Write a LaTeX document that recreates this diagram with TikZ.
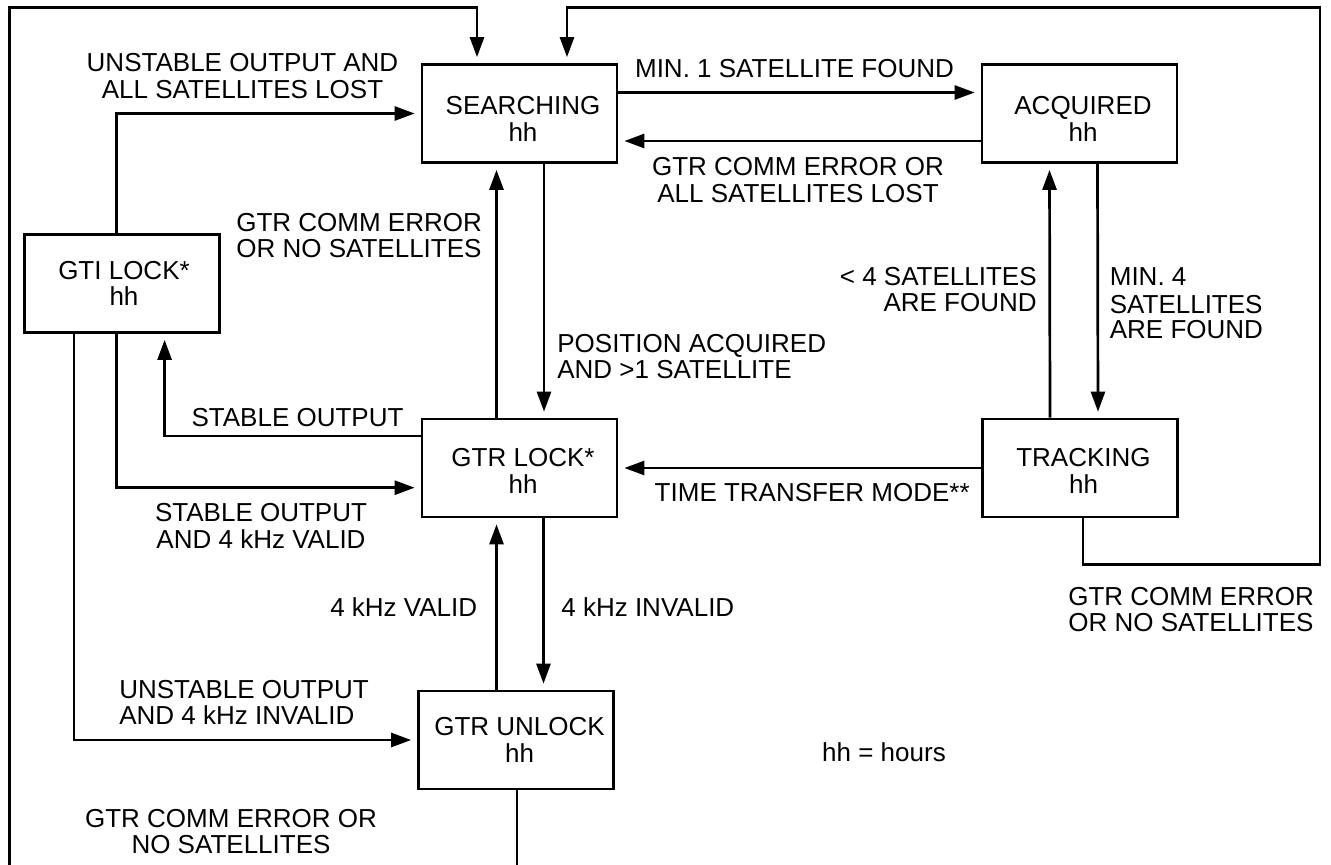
\documentclass[tikz,border=0pt]{standalone}
\usepackage{fontspec}
\setmainfont{Liberation Sans}
\usetikzlibrary{arrows.meta}
\begin{document}
\begin{tikzpicture}[x=1pt,y=-1pt,line width=2.7pt,
  font=\fontsize{26pt}{26.5pt}\selectfont,
  state/.style={draw,minimum width=195pt,minimum height=98pt,inner sep=0pt},
  txt/.style={align=center,inner sep=0pt,xshift=3.5pt},
  lbl/.style={inner sep=0pt},
  arr/.style={-{Triangle[length=20pt,width=14pt]},shorten >=6pt}]
\path[use as bounding box,clip] (0,0) rectangle (1331,865);
\node[state,label={[txt,yshift=-5.5pt]center:SEARCHING\\hh}] (search) at (519.5,113.5) {};
\node[state,label={[txt,yshift=-5.5pt]center:ACQUIRED\\hh}] (acq) at (1079.5,113.5) {};
\node[state,label={[txt,xshift=-1.5pt]center:GTI LOCK*\\hh}] (gti) at (122,283.5) {};
\node[state,label={[txt,yshift=-3pt]center:GTR LOCK*\\hh}] (lock) at (519.5,468) {};
\node[state,label={[txt,yshift=-3pt]center:TRACKING\\hh}] (track) at (1080,468) {};
\node[state,label={[txt]center:GTR UNLOCK\\hh}] (unlock) at (516,740) {};
\draw[arr] ([yshift=21pt]search.east) -- ([yshift=21pt]acq.west);
\draw[arr] ([yshift=-27.5pt]acq.west) -- ([yshift=-27.5pt]search.east);
\draw[arr] ([xshift=24.5pt]search.south) -- ([xshift=24.5pt]lock.north);
\draw[arr] ([xshift=-23pt]lock.north) -- ([xshift=-23pt]search.south);
\draw[arr] ([xshift=18pt]acq.south) -- ([xshift=18pt]track.north);
\draw[arr] ([xshift=-30pt]track.north) -- ([xshift=-30pt]acq.south);
\draw[arr] (track.west) -- (lock.east);
\draw[arr] ([yshift=32pt]lock.west) -| ([xshift=42.6pt]gti.south);
\draw[arr] ([xshift=-5.4pt]gti.north) |- (search.west);
\draw[arr] ([xshift=-5.4pt]gti.south) |- ([yshift=-19.7pt]lock.west);
\draw[arr] ([xshift=-48pt]gti.south) |- (unlock.west);
\draw[arr] ([xshift=24pt]lock.south) -- ([xshift=27.5pt]unlock.north);
\draw[arr] ([xshift=-19.5pt]unlock.north) -- ([xshift=-23pt]lock.south);
\draw[arr] ([xshift=1pt]unlock.south) -- ++(0,90) -| (9.3,7.3) -| ([xshift=-42.5pt]search.north);
\draw[arr] ([xshift=3pt]track.south) -- ++(0,46) -| (1320,7.3) -| ([xshift=47.5pt]search.north);
\node[lbl,align=center] (lostall) at (242.5,76) {UNSTABLE OUTPUT AND\\ALL SATELLITES LOST};
\node[lbl] (minone) at (794.5,69) {MIN. 1 SATELLITE FOUND};
\node[lbl,align=center] (commlost) at (798,180) {GTR COMM ERROR OR\\ALL SATELLITES LOST};
\node[lbl,align=left,anchor=west] (commmid) at (235,235.5) {GTR COMM ERROR\\OR NO SATELLITES};
\node[lbl,align=right,anchor=east] (lessfour) at (1038,289.5) {< 4 SATELLITES\\ARE FOUND};
\node[lbl,align=left,anchor=west] (minfour) at (1108.5,303) {MIN. 4\\[2pt]SATELLITES\\[-2pt]ARE FOUND};
\node[lbl,align=left,anchor=west] (posacq) at (556,356.5) {POSITION ACQUIRED\\AND >1 SATELLITE};
\node[lbl] (stable) at (297.5,418) {STABLE OUTPUT};
\node[lbl,anchor=east] (ttm) at (971,493) {TIME TRANSFER MODE**};
\node[lbl,align=center] (stablevalid) at (261,526) {STABLE OUTPUT\\AND 4 kHz VALID};
\node[lbl,anchor=east] (valid) at (478.5,607) {4 kHz VALID};
\node[lbl,anchor=west] (invalid) at (560,607) {4 kHz INVALID};
\node[lbl,align=left,anchor=west] (unstinv) at (118,702.5) {UNSTABLE OUTPUT\\AND 4 kHz INVALID};
\node[lbl,align=center] (commbot) at (231,831.5) {GTR COMM ERROR OR\\NO SATELLITES};
\node[lbl,align=left,anchor=west] (commright) at (1067,609.5) {GTR COMM ERROR\\OR NO SATELLITES};
\node[lbl] (legend) at (884,752) {hh = hours};
\end{tikzpicture}
\end{document}
